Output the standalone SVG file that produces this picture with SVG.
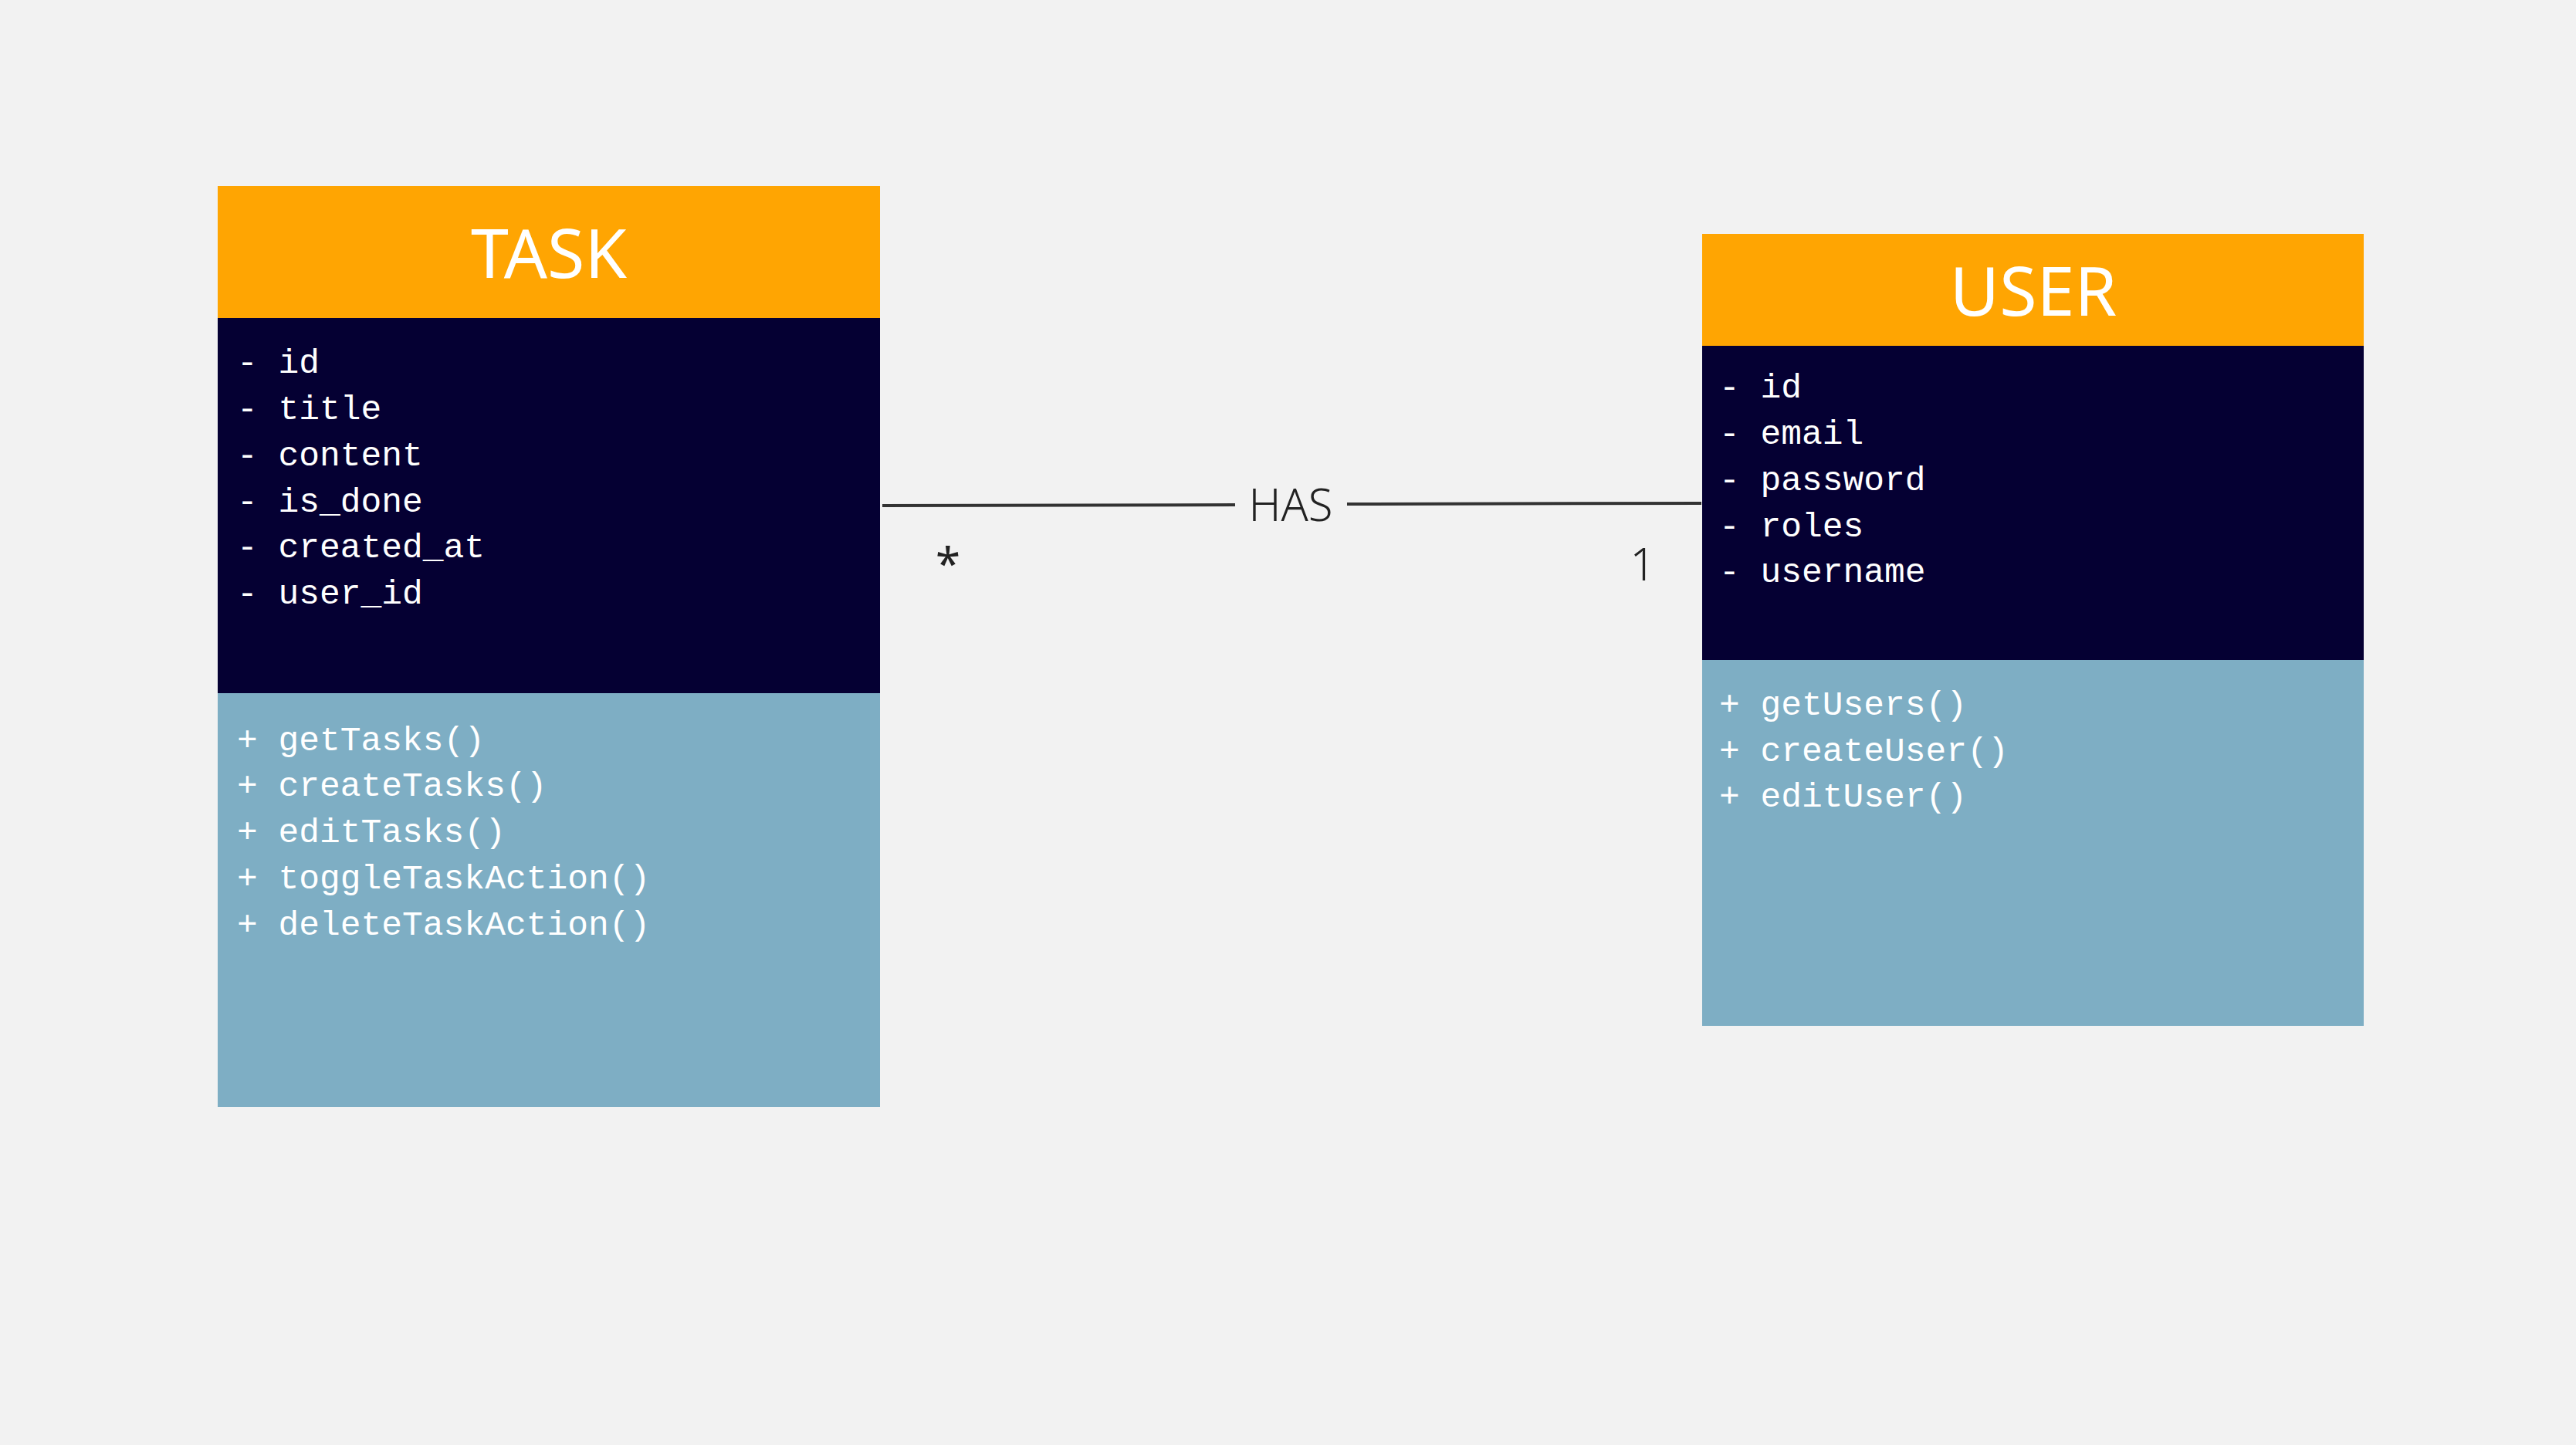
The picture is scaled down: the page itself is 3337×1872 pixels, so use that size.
<svg xmlns="http://www.w3.org/2000/svg" width="3337" height="1872" viewBox="0 0 3337 1872">
  <style>
    .hdr { fill: #FFA502; }
    .attr { fill: #050033; }
    .meth { fill: #7EAEC4; }
    .title { font-family: "Noto Sans", "Liberation Sans", sans-serif; font-size: 88px; fill: #FFFFFF; text-anchor: middle; }
    .mono { font-family: "Liberation Mono", "DejaVu Sans Mono", monospace; font-size: 44.6px; fill: #FFFFFF; }
    .lbl { font-family: "Noto Sans", "Liberation Sans", sans-serif; fill: #222222; }
    .conn { stroke: #333333; stroke-width: 4; fill: none; }
  </style>
  <rect x="0" y="0" width="3337" height="1872" fill="#F2F2F2"/>

  <g id="task">
    <rect class="hdr" x="282" y="241" width="858" height="171"/>
    <rect class="attr" x="282" y="412" width="858" height="486"/>
    <rect class="meth" x="282" y="898" width="858" height="536"/>
    <text class="title" x="711" y="360">TASK</text>
    <text class="mono" x="307" y="483">- id</text>
    <text class="mono" x="307" y="543">- title</text>
    <text class="mono" x="307" y="603">- content</text>
    <text class="mono" x="307" y="663">- is_done</text>
    <text class="mono" x="307" y="722">- created_at</text>
    <text class="mono" x="307" y="782">- user_id</text>
    <text class="mono" x="307" y="972">+ getTasks()</text>
    <text class="mono" x="307" y="1031">+ createTasks()</text>
    <text class="mono" x="307" y="1091">+ editTasks()</text>
    <text class="mono" x="307" y="1151">+ toggleTaskAction()</text>
    <text class="mono" x="307" y="1211">+ deleteTaskAction()</text>
  </g>

  <g id="user">
    <rect class="hdr" x="2205" y="303" width="857" height="145"/>
    <rect class="attr" x="2205" y="448" width="857" height="407"/>
    <rect class="meth" x="2205" y="855" width="857" height="474"/>
    <text class="title" x="2634" y="409">USER</text>
    <text class="mono" x="2227" y="515">- id</text>
    <text class="mono" x="2227" y="575">- email</text>
    <text class="mono" x="2227" y="635">- password</text>
    <text class="mono" x="2227" y="695">- roles</text>
    <text class="mono" x="2227" y="754">- username</text>
    <text class="mono" x="2227" y="926">+ getUsers()</text>
    <text class="mono" x="2227" y="986">+ createUser()</text>
    <text class="mono" x="2227" y="1045">+ editUser()</text>
  </g>

  <g id="connectors">
    <line class="conn" x1="1143" y1="655" x2="1600" y2="654"/>
    <line class="conn" x1="1745" y1="653" x2="2204" y2="652"/>
    <text class="lbl" x="1672" y="675" font-size="58" text-anchor="middle" font-weight="300">HAS</text>
    <text class="lbl" x="1228" y="752" font-size="58" text-anchor="middle">*</text>
    <text class="lbl" x="2128" y="752" font-size="58" text-anchor="middle" font-weight="300">1</text>
  </g>
</svg>
